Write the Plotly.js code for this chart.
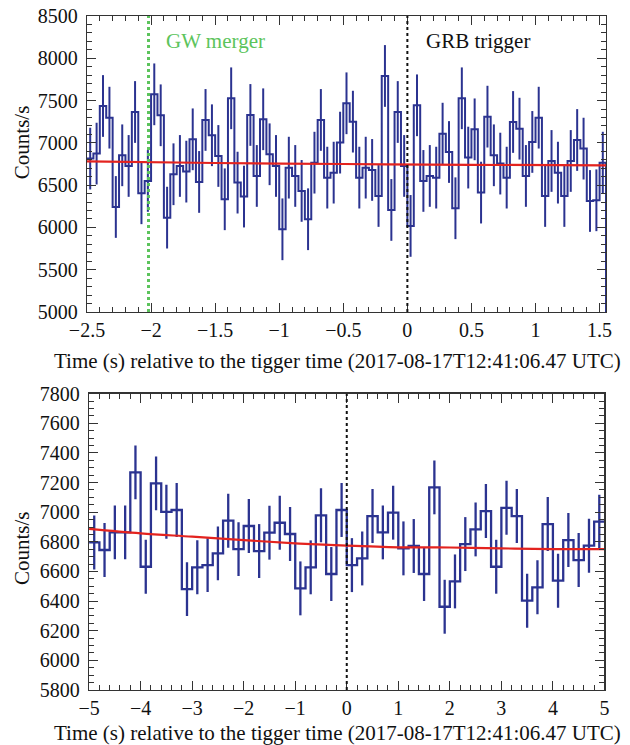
<!DOCTYPE html>
<html><head><meta charset="utf-8">
<script src="https://cdn.plot.ly/plotly-3.0.1.min.js"></script>
<style>body{margin:0;background:#fff}#chart{width:630px;height:745px}</style>
</head><body><div id="chart"></div>
<script>
// ---------- data ----------
const topStart = -2.5;
const topBinWidth = 0.05;
const topCounts = [
  6814, 6873, 7436, 7298, 6242, 6853, 6727, 7365, 6404, 6550,
  7574, 7326, 6116, 6629, 6727, 6660, 7042, 6538, 7271, 7090,
  6845, 6333, 7527, 6530, 6365, 7330, 6609, 7279, 6865, 6727,
  5978, 6707, 6609, 6432, 6097, 6766, 7271, 6589, 6648, 7003,
  7468, 7251, 6589, 6707, 6680, 6372, 7791, 6207, 7365, 6727,
  6018, 7444, 6550, 6609, 6589, 7109, 6892, 6227, 7527, 6826,
  7160, 6412, 7310, 6853, 6755, 6589, 7247, 7168, 6609, 7011,
  7298, 6372, 6786, 6648, 6372, 6786, 7034, 6932, 6313, 6321,
  6766
];
const topErr = 365;
const topFitT = [-2.5, -1.5, -0.5, 0.5, 1.55];
const topFitV = [6780, 6762, 6750, 6740, 6735];

const botStart = -5;
const botBinWidth = 0.2;
const botCounts = [
  6796, 6745, 6864, 6864, 7269, 6632, 7195, 7003, 7015, 6481,
  6628, 6643, 6722, 6943, 6751, 6907, 6738, 6862, 6929, 6853,
  6486, 6628, 6979, 6583, 7015, 6643, 6688, 6974, 6864, 6997,
  6756, 6772, 6583, 7168, 6362, 6533, 6785, 6884, 7008, 6632,
  7030, 6974, 6403, 6493, 6920, 6538, 6812, 6677, 6774, 6936
];
const botErr = 182;
const botFitT = [-5, -4, -3, -2, -1, 0, 1, 2, 3, 4, 5];
const botFitV = [6887, 6857, 6835, 6812, 6790, 6774, 6763, 6762, 6756, 6751, 6751];

const gwTime = -2.02;
const grbTime = 0;
const xTitle = 'Time (s) relative to the tigger time (2017-08-17T12:41:06.47 UTC)';
const yTitle = 'Counts/s';

// ---------- build ----------
const BLUE = '#2b3390', RED = '#e3231f', GREEN = '#5cc45c';
const FONT = '"Liberation Serif", "Times New Roman", Times, serif';
const topRange = [5000, 8500], botRange = [5800, 7800];

function stepTrace(start, w, vals, xa, ya, lw, dropTo) {
  const xs = [], ys = [];
  for (let i = 0; i < vals.length; i++) { xs.push(start + i * w); ys.push(vals[i]); }
  xs.push(start + vals.length * w); ys.push(vals[vals.length - 1]);
  if (dropTo !== undefined) { xs.push(start + vals.length * w); ys.push(dropTo); }
  return {x: xs, y: ys, xaxis: xa, yaxis: ya, mode: 'lines', line: {shape: 'hv', color: BLUE, width: lw}, hoverinfo: 'skip'};
}
function errTrace(start, w, vals, err, xa, ya, lw) {
  const xs = vals.map((v, i) => start + (i + 0.5) * w);
  return {x: xs, y: vals, xaxis: xa, yaxis: ya, mode: 'markers',
    marker: {size: 1, color: 'rgba(0,0,0,0)'},
    error_y: {type: 'constant', value: err, color: BLUE, thickness: lw, width: 0}, hoverinfo: 'skip'};
}

const traces = [
  errTrace(topStart, topBinWidth, topCounts, topErr, 'x', 'y', 2),
  stepTrace(topStart, topBinWidth, topCounts, 'x', 'y', 2, topRange[0]),
  {x: topFitT, y: topFitV, xaxis: 'x', yaxis: 'y', mode: 'lines', line: {color: RED, width: 2.2, shape: 'spline'}},
  errTrace(botStart, botBinWidth, botCounts, botErr, 'x2', 'y2', 2.3),
  stepTrace(botStart, botBinWidth, botCounts, 'x2', 'y2', 2.3),
  {x: botFitT, y: botFitV, xaxis: 'x2', yaxis: 'y2', mode: 'lines', line: {color: RED, width: 2.2, shape: 'spline'}}
];

const axBase = {
  showgrid: false, zeroline: false, showline: true, linecolor: '#333', linewidth: 1.3,
  ticks: 'inside', ticklen: 9, tickwidth: 1, tickcolor: '#333', mirror: 'allticks',
  tickfont: {family: FONT, size: 20, color: '#111'}
};

const layout = {
  width: 630, height: 745,
  margin: {l: 87, r: 24, t: 16, b: 55},
  paper_bgcolor: '#fff', plot_bgcolor: '#fff',
  showlegend: false,
  font: {family: FONT},
  xaxis: Object.assign({}, axBase, {domain: [0, 1], anchor: 'y', range: [-2.5, 1.55], tick0: 0, dtick: 0.5,
    minor: {dtick: 0.1, ticks: 'inside', ticklen: 5, tickcolor: '#333'}}),
  yaxis: Object.assign({}, axBase, {domain: [0.5608, 1], anchor: 'x', range: topRange, dtick: 500,
    minor: {dtick: 100, ticks: 'inside', ticklen: 5, tickcolor: '#333'}, ticklabelstandoff: 4}),
  xaxis2: Object.assign({}, axBase, {domain: [0.004, 0.997], anchor: 'y2', range: [-5, 5], tick0: 0, dtick: 1,
    minor: {dtick: 0.2, ticks: 'inside', ticklen: 5, tickcolor: '#333'}}),
  yaxis2: Object.assign({}, axBase, {domain: [0, 0.4396], anchor: 'x2', range: botRange, dtick: 200,
    minor: {dtick: 50, ticks: 'inside', ticklen: 5, tickcolor: '#333'}, ticklabelstandoff: 4}),
  shapes: [
    {type: 'line', xref: 'x', yref: 'y domain', x0: gwTime, x1: gwTime, y0: 0, y1: 1, line: {color: GREEN, width: 3, dash: 'dot'}},
    {type: 'line', xref: 'x', yref: 'y domain', x0: grbTime, x1: grbTime, y0: 0, y1: 1, line: {color: '#111', width: 2, dash: 'dot'}},
    {type: 'line', xref: 'x2', yref: 'y2 domain', x0: grbTime, x1: grbTime, y0: 0, y1: 1, line: {color: '#111', width: 2, dash: 'dot'}}
  ],
  annotations: [
    {text: 'GW merger', xref: 'x', yref: 'y', x: -1.9, y: 8200, xanchor: 'left', yanchor: 'middle', showarrow: false,
      font: {family: FONT, size: 21, color: GREEN}},
    {text: 'GRB trigger', xref: 'x', yref: 'y', x: 0.13, y: 8200, xanchor: 'left', yanchor: 'middle', showarrow: false,
      font: {family: FONT, size: 21, color: '#111'}},
    {text: yTitle, xref: 'paper', yref: 'paper', x: -0.125, y: 0.813, textangle: -90, showarrow: false,
      xanchor: 'center', yanchor: 'middle', font: {family: FONT, size: 21, color: '#111'}},
    {text: yTitle, xref: 'paper', yref: 'paper', x: -0.125, y: 0.2107, textangle: -90, showarrow: false,
      xanchor: 'center', yanchor: 'middle', font: {family: FONT, size: 21, color: '#111'}},
    {text: xTitle, xref: 'paper', yref: 'paper', x: 0.4817, y: 0.488, showarrow: false,
      xanchor: 'center', yanchor: 'middle', font: {family: FONT, size: 21, color: '#111'}},
    {text: xTitle, xref: 'paper', yref: 'paper', x: 0.4817, y: -0.0638, showarrow: false,
      xanchor: 'center', yanchor: 'middle', font: {family: FONT, size: 21, color: '#111'}}
  ]
};

Plotly.newPlot('chart', traces, layout, {staticPlot: true, displayModeBar: false});
</script>
</body></html>
